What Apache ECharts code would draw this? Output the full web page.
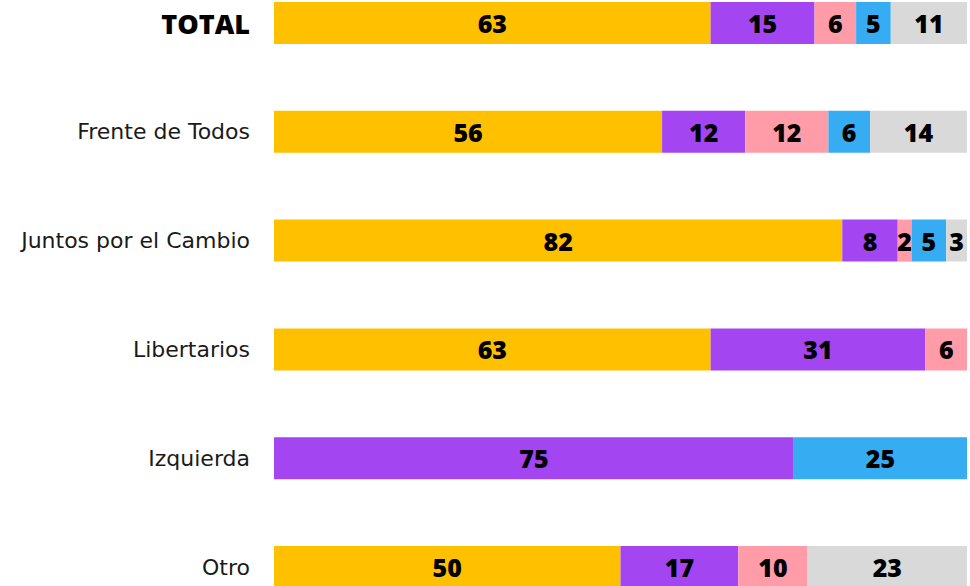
<!DOCTYPE html>
<html><head><meta charset="utf-8">
<script src="https://cdn.jsdelivr.net/npm/echarts@6/dist/echarts.min.js"></script>
<style>html,body{margin:0;padding:0;background:#fff}#c{width:970px;height:586px}</style>
</head><body><div id="c"></div>
<script>
const categories = ["TOTAL","Frente de Todos","Juntos por el Cambio","Libertarios","Izquierda","Otro"];
const s1 = [63,56,82,63,0,50];
const s2 = [15,12,8,31,75,17];
const s3 = [6,12,2,6,0,10];
const s4 = [5,6,5,0,25,0];
const s5 = [11,14,3,0,0,23];
const seriesData = [s1,s2,s3,s4,s5];
const colors = ["#FFC000","#A346F2","#FF9CA8","#36ACF3","#D9D9D9"];

const chart = echarts.init(document.getElementById('c'), null, {renderer:'svg'});
chart.setOption({
  animation:false,
  grid:{left:274,right:3,top:23,bottom:19,containLabel:false},
  xAxis:{type:'value',min:0,max:100,show:false},
  yAxis:{type:'category',data:categories,inverse:true,boundaryGap:false,
    axisLine:{show:false},axisTick:{show:false},splitLine:{show:false},
    axisLabel:{margin:24,fontFamily:'DejaVu Sans',fontSize:22,color:'#1a1a1a',fontWeight:'normal',
      formatter:function(v){return v==='TOTAL'?'{b|'+v+'}':v;},
      rich:{b:{fontFamily:'Open Sans',fontWeight:800,fontSize:27,color:'#000'}}}},
  series: seriesData.map((d,i)=>({
    type:'bar',stack:'a',data:d.map(v=>v===0?null:v),barWidth:42,
    itemStyle:{color:colors[i]},
    label:{show:true,position:'inside',color:'#000',fontFamily:'Open Sans',fontWeight:800,fontSize:25,
      formatter:p=>p.value}
  }))
});
</script></body></html>
